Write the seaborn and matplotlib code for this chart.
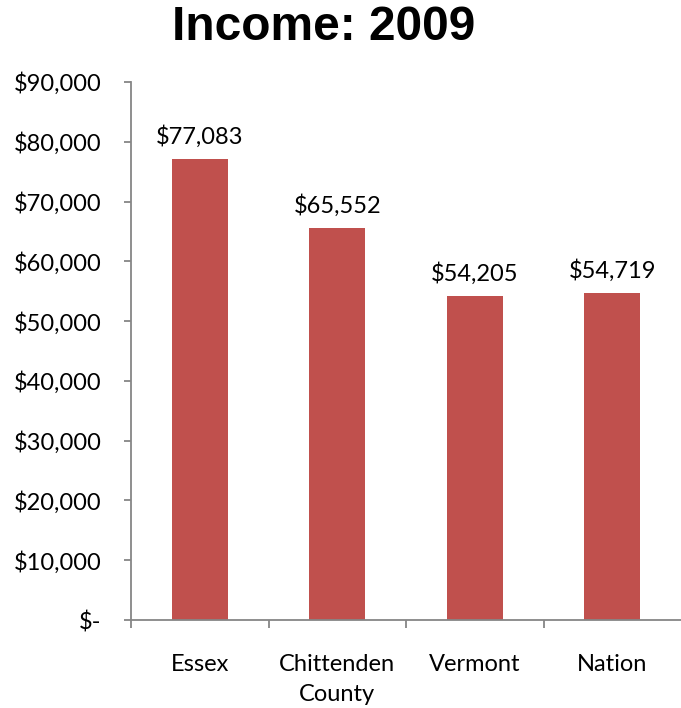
import numpy as np
import pandas as pd
import matplotlib
matplotlib.use("Agg")
import matplotlib.pyplot as plt
import seaborn as sns

# chart values
places = ["Essex", "Chittenden\nCounty", "Vermont", "Nation"]
income = [77083, 65552, 54205, 54719]
bar_labels = ["$77,083", "$65,552", "$54,205", "$54,719"]
y_ticks = [0, 10000, 20000, 30000, 40000, 50000, 60000, 70000, 80000, 90000]
y_tick_labels = ["$-", "$10,000", "$20,000", "$30,000", "$40,000",
                 "$50,000", "$60,000", "$70,000", "$80,000", "$90,000"]

df = pd.DataFrame({"place": places, "income": income})

sns.set_theme(style="white")
plt.rcParams["font.family"] = ["Lato", "DejaVu Sans"]

fig = plt.figure(figsize=(6.81, 7.08), dpi=100)
ax = fig.add_axes([131 / 681, 1 - 620 / 708, 1 - 131 / 681, (620 - 82) / 708])

sns.barplot(data=df, x="place", y="income", color="#C0504D", width=0.41,
            saturation=1, linewidth=0, ax=ax)

# value labels above the bars
for i, (v, lab) in enumerate(zip(income, bar_labels)):
    ax.annotate(lab, (i, v), xytext=(0, 8), textcoords="offset points",
                ha="center", va="bottom", fontsize=17, color="black")

ax.set_xlim(-0.5, len(places) - 0.5)
ax.set_ylim(0, 90000)
ax.set_yticks(y_ticks)
ax.set_yticklabels(y_tick_labels)

# ticks between categories, labels at category centres
ax.set_xticks(np.arange(len(places)) - 0.5)
ax.set_xticklabels([""] * len(places))
ax.set_xticks(np.arange(len(places)), minor=True)
ax.set_xticklabels(places, minor=True)

spine_col = "#868686"
for side in ["top", "right"]:
    ax.spines[side].set_visible(False)
for side in ["left", "bottom"]:
    ax.spines[side].set_color(spine_col)
    ax.spines[side].set_linewidth(1.3)

ax.tick_params(axis="y", which="major", left=True, length=5, width=1.3,
               color=spine_col, labelsize=17, labelcolor="black", pad=16)
ax.tick_params(axis="x", which="major", bottom=True, length=6, width=1.3,
               color=spine_col)
ax.tick_params(axis="x", which="minor", bottom=True, length=0,
               labelsize=17, labelcolor="black", pad=24.5)
for t in ax.get_xticklabels(minor=True):
    t.set_linespacing(1.5)

ax.set_xlabel("")
ax.set_ylabel("")

fig.text(324 / 681, 1 - 27 / 708, "Income: 2009", ha="center", va="center",
         fontsize=34.5, fontweight="bold", color="black",
         family=["Liberation Sans", "DejaVu Sans"])

fig.savefig("out.png", dpi=100)
